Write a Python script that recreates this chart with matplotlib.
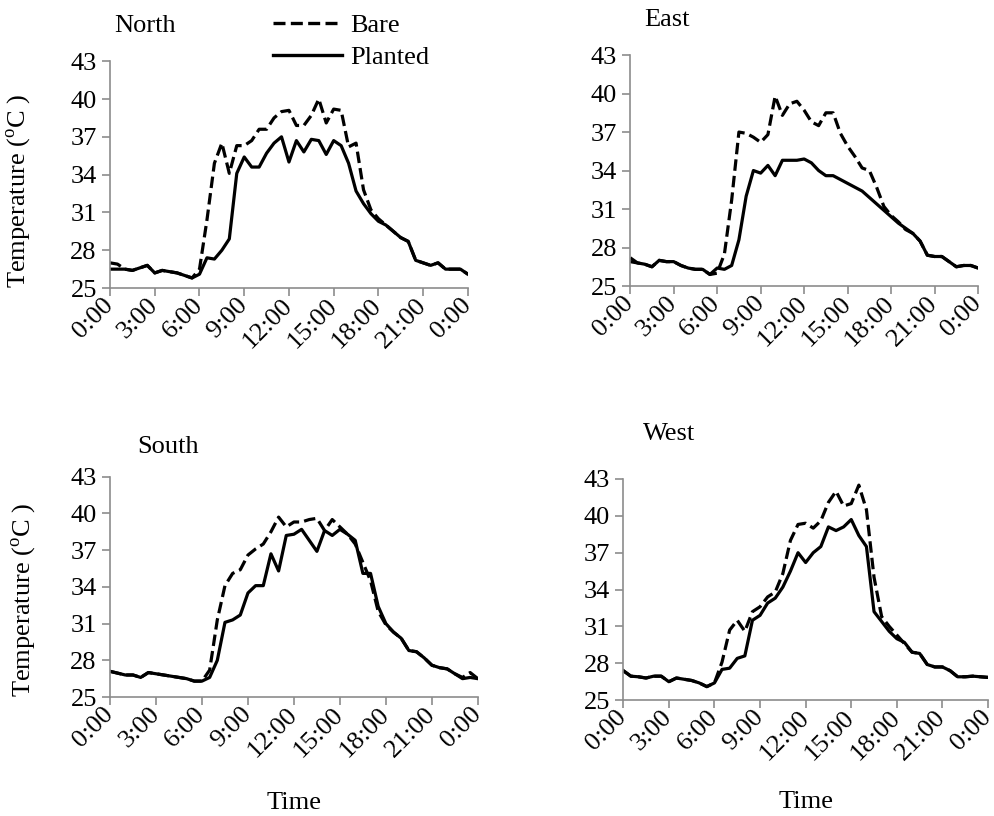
import numpy as np
import matplotlib
matplotlib.use("Agg")
import matplotlib.pyplot as plt
from matplotlib.lines import Line2D

plt.rcParams['font.family'] = ['Liberation Serif', 'DejaVu Serif']
plt.rcParams['font.size'] = 19
plt.rcParams['mathtext.fontset'] = 'custom'
plt.rcParams['mathtext.rm'] = 'Liberation Serif'

# half-hour readings, 0:00 to 24:00
hours = np.arange(0, 24.5, 0.5)
tick_hours = [0, 3, 6, 9, 12, 15, 18, 21, 24]
tick_labels = ["0:00", "3:00", "6:00", "9:00", "12:00", "15:00", "18:00", "21:00", "0:00"]

north_planted = [26.5, 26.5, 26.5, 26.4, 26.6, 26.8, 26.2, 26.4, 26.3, 26.2, 26.0, 25.8, 26.1,
                 27.4, 27.3, 28.0, 28.9, 34.1, 35.4, 34.6, 34.6, 35.7, 36.5, 37.0, 35.0,
                 36.7, 35.8, 36.8, 36.7, 35.6, 36.7, 36.3, 34.9, 32.7, 31.7, 30.9, 30.3,
                 30.0, 29.5, 29.0, 28.7, 27.2, 27.0, 26.8, 27.0, 26.5, 26.5, 26.5, 26.1]
north_bare = [27.0, 26.9, 26.5, 26.4, 26.6, 26.8, 26.2, 26.4, 26.3, 26.2, 26.0, 25.8, 26.5,
              30.4, 34.9, 36.5, 34.1, 36.3, 36.3, 36.7, 37.6, 37.6, 38.5, 39.0, 39.1,
              37.9, 37.9, 38.7, 40.0, 38.1, 39.2, 39.1, 36.2, 36.5, 32.8, 31.2, 30.5,
              30.0, 29.5, 29.0, 28.7, 27.2, 27.0, 26.8, 27.0, 26.5, 26.5, 26.5, 26.1]

east_planted = [26.9, 26.8, 26.7, 26.5, 27.0, 26.9, 26.9, 26.6, 26.4, 26.3, 26.3, 25.9, 26.4,
                26.3, 26.6, 28.6, 32.0, 34.0, 33.8, 34.4, 33.6, 34.8, 34.8, 34.8, 34.9,
                34.6, 34.0, 33.6, 33.6, 33.3, 33.0, 32.7, 32.4, 31.9, 31.4, 30.9, 30.4,
                29.9, 29.5, 29.1, 28.5, 27.4, 27.3, 27.3, 26.9, 26.5, 26.6, 26.6, 26.4]
east_bare = [27.2, 26.8, 26.7, 26.5, 27.0, 26.9, 26.9, 26.6, 26.4, 26.3, 26.3, 25.9, 26.0,
             27.5, 31.7, 37.0, 36.9, 36.6, 36.2, 36.8, 39.8, 38.3, 39.2, 39.4, 38.7,
             37.8, 37.5, 38.5, 38.5, 36.9, 35.9, 35.1, 34.2, 34.0, 32.7, 31.2, 30.5,
             30.0, 29.4, 29.1, 28.5, 27.4, 27.3, 27.3, 26.9, 26.5, 26.6, 26.6, 26.4]

south_planted = [27.1, 26.95, 26.8, 26.8, 26.6, 27.0, 26.9, 26.8, 26.7, 26.6, 26.5, 26.3, 26.3,
                 26.6, 28.0, 31.1, 31.3, 31.7, 33.5, 34.1, 34.1, 36.7, 35.3, 38.2, 38.3,
                 38.7, 37.8, 36.9, 38.6, 38.2, 38.7, 38.3, 37.8, 35.1, 35.1, 32.4, 31.0,
                 30.3, 29.8, 28.8, 28.7, 28.2, 27.6, 27.4, 27.3, 26.9, 26.5, 26.6, 26.5]
south_bare = [27.1, 26.95, 26.8, 26.8, 26.6, 27.0, 26.9, 26.8, 26.7, 26.6, 26.5, 26.3, 26.3,
              27.2, 31.3, 34.1, 35.1, 35.4, 36.6, 37.1, 37.5, 38.5, 39.7, 38.9, 39.3,
              39.3, 39.5, 39.6, 38.6, 39.5, 38.9, 38.3, 37.5, 36.0, 34.5, 32.0, 30.9,
              30.3, 29.8, 28.8, 28.7, 28.2, 27.6, 27.4, 27.3, 26.9, 26.6, 27.0, 26.5]

west_planted = [27.4, 26.95, 26.9, 26.8, 26.95, 26.95, 26.5, 26.8, 26.7, 26.6, 26.4, 26.1, 26.4,
                27.5, 27.6, 28.4, 28.6, 31.5, 31.9, 32.9, 33.3, 34.2, 35.5, 37.0, 36.2,
                37.0, 37.5, 39.1, 38.8, 39.1, 39.7, 38.4, 37.5, 32.2, 31.4, 30.6, 30.0,
                29.7, 28.9, 28.8, 27.9, 27.7, 27.7, 27.4, 26.9, 26.9, 26.95, 26.9, 26.85]
west_bare = [27.4, 26.95, 26.9, 26.8, 26.95, 26.95, 26.5, 26.8, 26.7, 26.6, 26.4, 26.1, 26.4,
             28.1, 30.7, 31.5, 30.6, 32.2, 32.6, 33.4, 33.8, 35.3, 38.0, 39.3, 39.4,
             39.0, 39.6, 41.1, 42.0, 40.8, 41.0, 42.5, 40.5, 35.0, 31.8, 31.0, 30.3,
             29.6, 28.9, 28.8, 27.9, 27.7, 27.7, 27.4, 26.9, 26.9, 26.95, 26.9, 26.85]

# name, bare, planted, axes rect, title pos, ylabel coords, xlabel y
panels = [
    ("North", north_bare, north_planted, [0.1107, 0.647, 0.360, 0.278], (0.115, 0.968), (-0.215, 0.43), None),
    ("East", east_bare, east_planted, [0.634, 0.6495, 0.350, 0.283], (0.648, 0.975), None, None),
    ("South", south_bare, south_planted, [0.1107, 0.1458, 0.370, 0.270], (0.138, 0.452), (-0.195, 0.44), -0.433),
    ("West", west_bare, west_planted, [0.627, 0.142, 0.367, 0.271], (0.647, 0.468), None, -0.41),
]

fig = plt.figure(figsize=(9.94, 8.16), dpi=100)
gray = "#8c8c8c"
dash = (0, (3.6, 1.6))

for name, bare, planted, rect, title_pos, ylab, xlab in panels:
    ax = fig.add_axes(rect)
    ax.plot(hours, bare, color="black", lw=2.3, linestyle=dash)
    ax.plot(hours, planted, color="black", lw=2.3)
    ax.set_xlim(0, 24)
    ax.set_ylim(25, 43)
    ax.set_yticks([25, 28, 31, 34, 37, 40, 43])
    ax.set_xticks(tick_hours)
    ax.set_xticklabels(tick_labels, rotation=45, ha="right", va="center", rotation_mode="anchor")
    for s in ["top", "right"]:
        ax.spines[s].set_visible(False)
    for s in ["left", "bottom"]:
        ax.spines[s].set_color(gray)
        ax.spines[s].set_linewidth(1.2)
    ax.tick_params(axis="both", colors=gray, labelcolor="black", length=6, width=1.2, labelsize=19)
    ax.tick_params(axis="x", pad=4)
    fig.text(title_pos[0], title_pos[1], name, fontsize=19, va="center")
    if ylab:
        ax.set_ylabel(r"Temperature ($^{\rm o}$C )", fontsize=19)
        ax.yaxis.set_label_coords(*ylab)
    if xlab:
        ax.set_xlabel("Time", fontsize=19)
        ax.xaxis.set_label_coords(0.5, xlab)

handles = [Line2D([], [], color="black", lw=2.4, linestyle=dash),
           Line2D([], [], color="black", lw=2.4)]
fig.legend(handles, ["Bare", "Planted"], loc="upper left", bbox_to_anchor=(0.251, 1.012),
           frameon=False, handlelength=2.6, handletextpad=0.3, labelspacing=0.3, fontsize=19)

fig.savefig("out.png", dpi=100)
